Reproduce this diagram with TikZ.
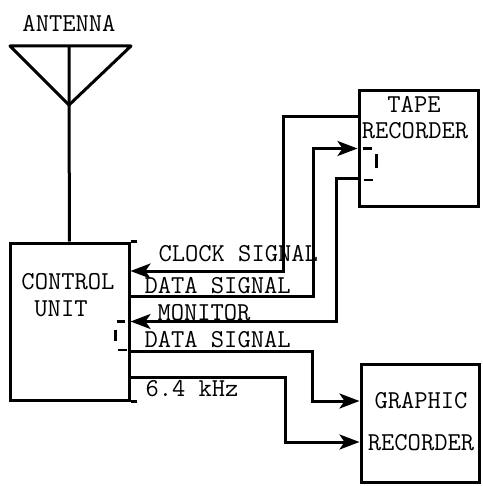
\documentclass[tikz,border=0pt]{standalone}
\usepackage{fontspec}
\usetikzlibrary{arrows.meta}

\begin{document}
\begin{tikzpicture}[
    x = 1pt, y = -1pt, % reference pixels
    > = {Stealth[length=20pt,width=15pt,inset=5pt]}, % arrow head style
    line width = 3pt, % line style
    block/.style = {draw = black, inner sep = 0pt},
    lbl/.style = {inner sep = 0pt, font = \fontsize{25.8}{28}\selectfont\ttfamily},
    sig/.style = {lbl, anchor = west},
    gapmark/.style = {line width = 2.8pt}
    ]

    \useasboundingbox (0,0) rectangle (482,486);

    % boxes
    \node[block, minimum width = 119pt, minimum height = 157pt] (control) at (69.5,321.5) {};
    \node[block, minimum width = 119pt, minimum height = 115pt] (tape) at (418.5,148.5) {};
    \node[block, minimum width = 118pt, minimum height = 118pt] (graphic) at (420,423) {};

    % antenna
    \coordinate (antleft) at (10,46);
    \coordinate (antright) at (131,46);
    \coordinate (anttop) at (69,46);
    \coordinate (antapex) at (69,105);
    \draw[line join = round] (antleft) -- (antright) -- (antapex) -- cycle;
    \draw (anttop) -- (antapex) -- (control.north);

    % box labels
    \node[lbl] (antennatxt) at (69,23) {ANTENNA};
    \node[lbl] (tapetxt) at (414,104) {TAPE};
    \node[lbl] (taperec) at (415,131) {RECORDER};
    \node[lbl] (controltxt) at (68,282) {CONTROL};
    \node[lbl] (unittxt) at (61,309) {UNIT};
    \node[lbl] (graphictxt) at (421,401) {GRAPHIC};
    \node[lbl] (graphicrec) at (421,443) {RECORDER};

    % signal labels
    \node[sig] (clocktxt) at (157,254) {CLOCK SIGNAL};
    \node[sig] (datatxt) at (143,286) {DATA SIGNAL};
    \node[sig] (monitortxt) at (156,313) {MONITOR};
    \node[sig] (datatxtb) at (143,340) {DATA SIGNAL};
    \node[sig] (khztxt) at (144,389) {6.4 kHz};

    % connectors
    \draw[->] ([yshift=31.5pt]tape.west) -- ++(-74,0) |- ([yshift=50.5pt]control.east);
    \draw[->] ([yshift=25.5pt]control.east) -- ++(183,0) |- (tape.west);
    \draw[->] ([yshift=-30.5pt]tape.west) -- ++(-21,0) |- (control.east);
    \draw[->] ([yshift=-29.5pt]control.east) -- ++(182,0) |- ([yshift=22pt]graphic.west);
    \draw[->] ([yshift=-55.5pt]control.east) -- ++(155,0) |- ([yshift=-19pt]graphic.west);

    % stubs on the control unit
    \draw (control.north east) -- ++(6,0);
    \draw (control.south east) -- ++(6,0);

    % interrupted brackets inside the boxes
    \draw[gapmark] ([xshift=5pt]tape.west) -- ++(9,0);
    \draw[gapmark] ([xshift=19pt,yshift=-6pt]tape.west) -- ++(0,14);
    \draw[gapmark] ([xshift=6pt,yshift=-31.5pt]tape.west) -- ++(9,0);
    \draw[gapmark] ([xshift=-14pt]control.east) -- ++(8,0);
    \draw[gapmark] ([xshift=-15pt,yshift=-8pt]control.east) -- ++(0,11);
    \draw[gapmark] ([xshift=-13pt,yshift=-28.5pt]control.east) -- ++(9,0);
\end{tikzpicture}
\end{document}
